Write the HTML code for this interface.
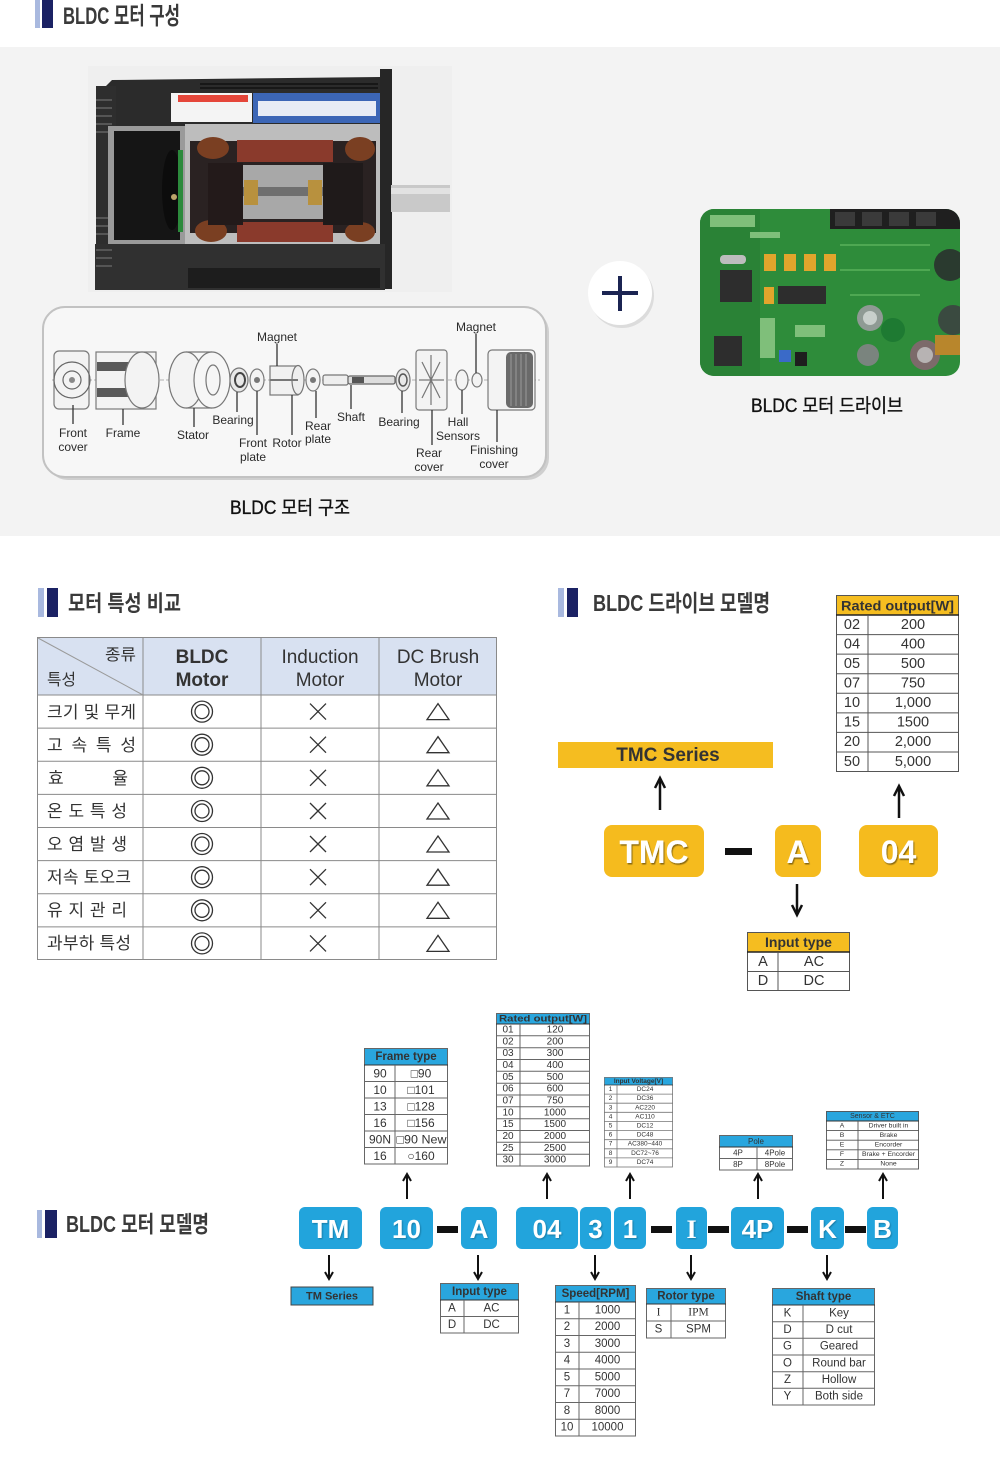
<!DOCTYPE html>
<html>
<head>
<meta charset="utf-8">
<style>
html,body{margin:0;padding:0;background:#fff;}
body{width:1000px;height:1460px;overflow:hidden;position:relative;}
svg{position:absolute;left:0;top:0;}
text{font-family:"Liberation Sans","Noto Sans CJK KR",sans-serif;fill:#333;}
.h{font-weight:bold;fill:#3a3a3a;}
.lbl{font-size:12px;fill:#2a2a2a;text-anchor:middle;}
.c{text-anchor:middle;dominant-baseline:central;}
.ar{stroke:#111;stroke-width:2;fill:none;}
.bt{font-size:26px;font-weight:bold;fill:#fff;text-anchor:middle;}
.yt{font-size:32px;font-weight:bold;fill:#fff;text-anchor:middle;}
.part{stroke:#7a7a7a;stroke-width:1.2;fill:#f3f3f3;}
.serif{font-family:"Liberation Serif",serif !important;}
.cap{fill:#111;stroke:#111;stroke-width:0.35;}
</style>
</head>
<body>
<svg width="1000" height="1460" viewBox="0 0 1000 1460" xmlns="http://www.w3.org/2000/svg">
<defs>
<filter id="ts" x="-10%" y="-10%" width="130%" height="130%"><feDropShadow dx="1" dy="1.5" stdDeviation="0.6" flood-color="#000" flood-opacity="0.45"/></filter>
<filter id="sh" x="-10%" y="-10%" width="130%" height="130%"><feDropShadow dx="1" dy="1" stdDeviation="0.8" flood-color="#000" flood-opacity="0.25"/></filter>
</defs>

<!-- ===== Section 1 header ===== -->
<rect x="35" y="0" width="5" height="28" fill="#a9b9df"/>
<rect x="42" y="0" width="11" height="28" fill="#1b2264"/>
<text x="63" y="24" class="h" font-size="24" textLength="117" lengthAdjust="spacingAndGlyphs">BLDC 모터 구성</text>

<!-- gray band -->
<rect x="0" y="47" width="1000" height="489" fill="#f3f3f3"/>

<!-- ===== Motor photo (approx) ===== -->
<rect x="88" y="66" width="364" height="226" fill="#efefef"/>
<rect x="380" y="69" width="12" height="220" fill="#262626"/>
<path d="M112 80 L380 77 L380 126 L100 126 L100 92 Z" fill="#2b2b2b"/>
<g stroke="#111" stroke-width="1.5">
<line x1="200" y1="84" x2="378" y2="84"/><line x1="200" y1="88" x2="378" y2="88"/>
</g>
<rect x="96" y="86" width="20" height="158" fill="#2e2e2e"/>
<g stroke="#555" stroke-width="2">
<line x1="96" y1="100" x2="112" y2="100"/><line x1="96" y1="108" x2="112" y2="108"/><line x1="96" y1="116" x2="112" y2="116"/><line x1="96" y1="124" x2="112" y2="124"/><line x1="96" y1="132" x2="112" y2="132"/>
<line x1="96" y1="218" x2="112" y2="218"/><line x1="96" y1="226" x2="112" y2="226"/><line x1="96" y1="234" x2="112" y2="234"/>
</g>
<rect x="108" y="126" width="77" height="118" fill="#9a9a9a"/>
<rect x="114" y="131" width="66" height="109" fill="#151515"/>
<ellipse cx="172" cy="190" rx="10" ry="40" fill="#0c0c0c"/>
<rect x="178" y="150" width="5" height="82" fill="#2c8a3c"/>
<circle cx="174" cy="197" r="3" fill="#bca36a"/>
<rect x="185" y="124" width="195" height="120" fill="#bdbdbd"/>
<rect x="190" y="141" width="186" height="92" fill="#2a2222"/>
<rect x="237" y="140" width="96" height="22" fill="#8a3a2c"/>
<rect x="237" y="222" width="96" height="20" fill="#8a3a2c"/>
<g fill="#7a3f22">
<ellipse cx="213" cy="148" rx="16" ry="11"/><ellipse cx="360" cy="149" rx="15" ry="12"/>
<ellipse cx="211" cy="231" rx="16" ry="11"/><ellipse cx="360" cy="232" rx="15" ry="10"/>
</g>
<rect x="208" y="163" width="35" height="62" fill="#231a1a"/>
<rect x="323" y="163" width="40" height="62" fill="#1f1a1a"/>
<rect x="243" y="165" width="80" height="54" fill="#a8a8a8"/>
<rect x="243" y="187" width="80" height="9" fill="#6f6f6f"/>
<rect x="244" y="180" width="14" height="25" fill="#b8913e"/>
<rect x="308" y="180" width="14" height="25" fill="#b8913e"/>
<rect x="95" y="244" width="290" height="46" fill="#303030"/>
<rect x="188" y="268" width="192" height="20" fill="#1d1d1d"/>
<g stroke="#555" stroke-width="2">
<line x1="96" y1="250" x2="112" y2="250"/><line x1="96" y1="258" x2="112" y2="258"/><line x1="96" y1="266" x2="112" y2="266"/>
</g>
<rect x="391" y="185" width="59" height="27" fill="#c9c9c9"/>
<rect x="391" y="188" width="59" height="6" fill="#e2e2e2"/>
<rect x="171" y="93" width="81" height="29" fill="#f4f4f4"/>
<rect x="178" y="95" width="70" height="7" fill="#e5463a"/>
<rect x="253" y="93" width="127" height="30" fill="#3c66b6"/>
<rect x="258" y="101" width="118" height="15" fill="#e8ecf5"/>

<!-- plus circle -->
<circle cx="622" cy="296" r="32" fill="#dcdcdc"/>
<circle cx="620" cy="293" r="32" fill="#ffffff"/>
<rect x="602" y="291" width="36" height="4" fill="#1b2452"/>
<rect x="618" y="276" width="4" height="35" fill="#1b2452"/>

<!-- PCB -->
<g>
<clipPath id="pc"><rect x="700" y="209" width="260" height="167" rx="14"/></clipPath>
<g clip-path="url(#pc)">
<rect x="700" y="209" width="260" height="167" fill="#2e8c3a"/>
<rect x="700" y="209" width="60" height="167" fill="#2a8236"/>
<rect x="830" y="209" width="130" height="20" fill="#1f1f1f"/>
<g fill="#3a3a3a"><rect x="835" y="212" width="20" height="14"/><rect x="862" y="212" width="20" height="14"/><rect x="889" y="212" width="20" height="14"/><rect x="916" y="212" width="20" height="14"/></g>
<rect x="720" y="270" width="32" height="32" fill="#2d2d2d"/>
<rect x="714" y="336" width="28" height="30" fill="#2d2d2d"/>
<rect x="778" y="286" width="48" height="18" fill="#2d2d2d"/>
<g fill="#e2a52c"><rect x="764" y="254" width="12" height="17"/><rect x="784" y="254" width="12" height="17"/><rect x="804" y="254" width="12" height="17"/><rect x="824" y="254" width="12" height="17"/><rect x="764" y="287" width="10" height="17"/></g>
<rect x="720" y="255" width="26" height="9" rx="4" fill="#bdbdbd"/>
<g fill="#7fbf7a"><rect x="710" y="215" width="45" height="12"/><rect x="750" y="232" width="30" height="6"/><rect x="795" y="325" width="30" height="12"/><rect x="760" y="318" width="15" height="40"/></g>
<rect x="779" y="350" width="12" height="12" fill="#3a6ac8"/>
<rect x="795" y="352" width="12" height="14" fill="#1e1e1e"/>
<circle cx="870" cy="318" r="13" fill="#8f9a94"/><circle cx="870" cy="318" r="7" fill="#c8cfcb"/>
<circle cx="868" cy="355" r="11" fill="#7a847e"/>
<circle cx="925" cy="355" r="15" fill="#7c6a6a"/><circle cx="925" cy="355" r="8" fill="#b7b3b3"/>
<circle cx="950" cy="265" r="16" fill="#2a3a2f"/><circle cx="953" cy="320" r="15" fill="#3a4a40"/>
<circle cx="893" cy="330" r="12" fill="#1e7a32"/>
<rect x="935" y="335" width="25" height="20" fill="#b8862c"/>
<g stroke="#59b25a" stroke-width="1.5"><line x1="840" y1="245" x2="930" y2="245"/><line x1="840" y1="270" x2="930" y2="270"/><line x1="850" y1="295" x2="920" y2="295"/></g>
</g>
</g>
<text x="751" y="412" font-size="19" class="cap" textLength="152" lengthAdjust="spacingAndGlyphs">BLDC 모터 드라이브</text>

<!-- ===== Exploded diagram ===== -->
<rect x="46" y="310" width="503" height="170" rx="22" fill="#cfcfcf"/>
<rect x="43" y="307" width="503" height="170" rx="22" fill="#f7f7f7" stroke="#c2c2c2" stroke-width="2"/>
<line x1="52" y1="380" x2="540" y2="380" stroke="#999" stroke-width="0.8" stroke-dasharray="4 2"/>
<rect x="54" y="351" width="35" height="58" rx="5" class="part"/>
<circle cx="72" cy="380" r="18" fill="none" stroke="#666" stroke-width="1.2"/>
<circle cx="72" cy="380" r="9" fill="none" stroke="#666" stroke-width="1.2"/>
<circle cx="72" cy="380" r="3" fill="#888"/>
<rect x="96" y="352" width="60" height="57" class="part"/>
<rect x="97" y="362" width="45" height="9" fill="#5a5a5a"/>
<rect x="97" y="388" width="45" height="9" fill="#5a5a5a"/>
<ellipse cx="142" cy="380" rx="17" ry="28" fill="#f3f3f3" stroke="#777" stroke-width="1.2"/>
<path d="M186 352 L212 352 M186 408 L212 408" stroke="#777" stroke-width="1.2"/>
<ellipse cx="186" cy="380" rx="17" ry="28" fill="#f3f3f3" stroke="#777" stroke-width="1.2"/>
<ellipse cx="212" cy="380" rx="18" ry="28" fill="#f6f6f6" stroke="#777" stroke-width="1.2"/>
<ellipse cx="213" cy="380" rx="7" ry="15" fill="none" stroke="#777" stroke-width="1.2"/>
<ellipse cx="239" cy="380" rx="9" ry="12" fill="#e8e8e8" stroke="#777" stroke-width="1.2"/>
<ellipse cx="240" cy="380" rx="5" ry="7" fill="none" stroke="#444" stroke-width="2"/>
<ellipse cx="257" cy="380" rx="7" ry="11" class="part"/>
<circle cx="257" cy="380" r="3" fill="#777"/>
<rect x="270" y="366" width="28" height="29" fill="#f1f1f1" stroke="#777" stroke-width="1.2"/>
<ellipse cx="298" cy="380" rx="6" ry="14.5" fill="#eee" stroke="#777" stroke-width="1.2"/>
<line x1="270" y1="380" x2="298" y2="380" stroke="#777" stroke-width="2"/>
<ellipse cx="313" cy="380" rx="7" ry="11" class="part"/>
<circle cx="313" cy="380" r="3" fill="#777"/>
<rect x="323" y="375" width="25" height="10" rx="2" fill="#eee" stroke="#777" stroke-width="1.2"/>
<rect x="348" y="376" width="47" height="8" rx="2" fill="#ddd" stroke="#666" stroke-width="1.2"/>
<rect x="352" y="377" width="12" height="6" fill="#555"/>
<ellipse cx="403" cy="380" rx="7" ry="11" fill="#e8e8e8" stroke="#777" stroke-width="1.2"/>
<ellipse cx="403" cy="380" rx="4" ry="6" fill="none" stroke="#555" stroke-width="1.5"/>
<rect x="416" y="350" width="31" height="60" rx="3" class="part"/>
<path d="M431 355 L431 405 M419 380 L444 380 M422 362 L440 398 M440 362 L422 398" stroke="#777" stroke-width="1.2"/>
<ellipse cx="462" cy="380" rx="6" ry="10" class="part"/>
<ellipse cx="477" cy="380" rx="5" ry="7" class="part"/>
<rect x="488" y="350" width="47" height="60" rx="4" class="part"/>
<rect x="506" y="352" width="27" height="56" rx="5" fill="#6a6a6a"/>
<g stroke="#999" stroke-width="1"><line x1="511" y1="354" x2="511" y2="406"/><line x1="516" y1="354" x2="516" y2="406"/><line x1="521" y1="354" x2="521" y2="406"/><line x1="526" y1="354" x2="526" y2="406"/></g>
<g stroke="#333" stroke-width="1.3">
<line x1="277" y1="344" x2="277" y2="366"/>
<line x1="476" y1="334" x2="476" y2="373"/>
<line x1="73" y1="405" x2="73" y2="424"/>
<line x1="123" y1="409" x2="123" y2="425"/>
<line x1="194" y1="408" x2="194" y2="427"/>
<line x1="237" y1="392" x2="237" y2="412"/>
<line x1="257" y1="391" x2="257" y2="435"/>
<line x1="292" y1="395" x2="292" y2="435"/>
<line x1="316" y1="391" x2="316" y2="418"/>
<line x1="351" y1="385" x2="351" y2="409"/>
<line x1="402" y1="391" x2="402" y2="413"/>
<line x1="432" y1="410" x2="432" y2="445"/>
<line x1="462" y1="390" x2="462" y2="414"/>
<line x1="497" y1="410" x2="497" y2="442"/>
</g>
<g>
<text x="277" y="341" class="lbl">Magnet</text>
<text x="476" y="331" class="lbl">Magnet</text>
<text x="73" y="437" class="lbl">Front</text><text x="73" y="451" class="lbl">cover</text>
<text x="123" y="437" class="lbl">Frame</text>
<text x="193" y="439" class="lbl">Stator</text>
<text x="233" y="424" class="lbl">Bearing</text>
<text x="253" y="447" class="lbl">Front</text><text x="253" y="461" class="lbl">plate</text>
<text x="287" y="447" class="lbl">Rotor</text>
<text x="318" y="430" class="lbl">Rear</text><text x="318" y="443" class="lbl">plate</text>
<text x="351" y="421" class="lbl">Shaft</text>
<text x="399" y="426" class="lbl">Bearing</text>
<text x="458" y="426" class="lbl">Hall</text><text x="458" y="440" class="lbl">Sensors</text>
<text x="429" y="457" class="lbl">Rear</text><text x="429" y="471" class="lbl">cover</text>
<text x="494" y="454" class="lbl">Finishing</text><text x="494" y="468" class="lbl">cover</text>
</g>
<text x="230" y="514" font-size="19" class="cap" textLength="120" lengthAdjust="spacingAndGlyphs">BLDC 모터 구조</text>

<!-- ===== Section 2: comparison ===== -->
<rect x="38" y="588" width="6" height="29" fill="#a9b9df"/>
<rect x="47" y="588" width="11" height="29" fill="#1b2264"/>
<text x="68" y="611" class="h" font-size="22" textLength="113" lengthAdjust="spacingAndGlyphs">모터 특성 비교</text>

<rect x="37" y="637" width="460" height="58" fill="#d8e1f1"/>
<g stroke="#8a8a8a" stroke-width="1" fill="none">
<rect x="37.5" y="637.5" width="459" height="322"/>
<line x1="143" y1="637" x2="143" y2="960"/>
<line x1="261" y1="637" x2="261" y2="960"/>
<line x1="379" y1="637" x2="379" y2="960"/>
<line x1="37" y1="695" x2="497" y2="695"/>
<line x1="37" y1="728.1" x2="497" y2="728.1"/>
<line x1="37" y1="761.2" x2="497" y2="761.2"/>
<line x1="37" y1="794.4" x2="497" y2="794.4"/>
<line x1="37" y1="827.5" x2="497" y2="827.5"/>
<line x1="37" y1="860.6" x2="497" y2="860.6"/>
<line x1="37" y1="893.8" x2="497" y2="893.8"/>
<line x1="37" y1="926.9" x2="497" y2="926.9"/>
<line x1="38" y1="638" x2="143" y2="695" stroke="#9a9a9a"/>
</g>
<text x="105" y="660" font-size="16" textLength="31" lengthAdjust="spacingAndGlyphs" fill="#444">종류</text>
<text x="47" y="685" font-size="16" textLength="29" lengthAdjust="spacingAndGlyphs" fill="#444">특성</text>
<text x="202" y="663" font-size="19" font-weight="bold" text-anchor="middle" fill="#222">BLDC</text>
<text x="202" y="686" font-size="19" font-weight="bold" text-anchor="middle" fill="#222">Motor</text>
<text x="320" y="663" font-size="19" text-anchor="middle" fill="#444">Induction</text>
<text x="320" y="686" font-size="19" text-anchor="middle" fill="#444">Motor</text>
<text x="438" y="663" font-size="19" text-anchor="middle" fill="#444">DC Brush</text>
<text x="438" y="686" font-size="19" text-anchor="middle" fill="#444">Motor</text>

<g font-size="17" fill="#333">
<text x="47" y="718" textLength="89" lengthAdjust="spacing">크기 및 무게</text>
<text x="47" y="751" textLength="89" lengthAdjust="spacing">고 속 특 성</text>
<text x="48" y="784" textLength="80" lengthAdjust="spacing">효 율</text>
<text x="47" y="817" textLength="80" lengthAdjust="spacing">온 도 특 성</text>
<text x="47" y="850" textLength="80" lengthAdjust="spacing">오 염 발 생</text>
<text x="47" y="883" textLength="84" lengthAdjust="spacing">저속 토오크</text>
<text x="47" y="916" textLength="80" lengthAdjust="spacing">유 지 관 리</text>
<text x="47" y="949" textLength="84" lengthAdjust="spacing">과부하 특성</text>
</g>
<g stroke="#333" stroke-width="1.3" fill="none">
<circle cx="202" cy="711.6" r="10.5"/><circle cx="202" cy="711.6" r="7"/>
<circle cx="202" cy="744.7" r="10.5"/><circle cx="202" cy="744.7" r="7"/>
<circle cx="202" cy="777.8" r="10.5"/><circle cx="202" cy="777.8" r="7"/>
<circle cx="202" cy="811" r="10.5"/><circle cx="202" cy="811" r="7"/>
<circle cx="202" cy="844" r="10.5"/><circle cx="202" cy="844" r="7"/>
<circle cx="202" cy="877.2" r="10.5"/><circle cx="202" cy="877.2" r="7"/>
<circle cx="202" cy="910.3" r="10.5"/><circle cx="202" cy="910.3" r="7"/>
<circle cx="202" cy="943.4" r="10.5"/><circle cx="202" cy="943.4" r="7"/>
<path d="M310 703.6 L326 719.6 M326 703.6 L310 719.6"/>
<path d="M310 736.7 L326 752.7 M326 736.7 L310 752.7"/>
<path d="M310 769.8 L326 785.8 M326 769.8 L310 785.8"/>
<path d="M310 803 L326 819 M326 803 L310 819"/>
<path d="M310 836 L326 852 M326 836 L310 852"/>
<path d="M310 869.2 L326 885.2 M326 869.2 L310 885.2"/>
<path d="M310 902.3 L326 918.3 M326 902.3 L310 918.3"/>
<path d="M310 935.4 L326 951.4 M326 935.4 L310 951.4"/>
<path d="M427 719.6 L449 719.6 L438 703.6 Z"/>
<path d="M427 752.7 L449 752.7 L438 736.7 Z"/>
<path d="M427 785.8 L449 785.8 L438 769.8 Z"/>
<path d="M427 819 L449 819 L438 803 Z"/>
<path d="M427 852 L449 852 L438 836 Z"/>
<path d="M427 885.2 L449 885.2 L438 869.2 Z"/>
<path d="M427 918.3 L449 918.3 L438 902.3 Z"/>
<path d="M427 951.4 L449 951.4 L438 935.4 Z"/>
</g>

<!-- ===== Section 3: drive model ===== -->
<rect x="558" y="588" width="6" height="29" fill="#a9b9df"/>
<rect x="567" y="588" width="11" height="29" fill="#1b2264"/>
<text x="593" y="611" class="h" font-size="23" textLength="177" lengthAdjust="spacingAndGlyphs">BLDC 드라이브 모델명</text>

<rect x="836" y="595" width="123" height="20" fill="#f5bd20"/>
<g stroke="#555" stroke-width="1" fill="none">
<rect x="836.5" y="595.5" width="122" height="176"/>
<line x1="836" y1="615" x2="959" y2="615" stroke="#222" stroke-width="1.5"/>
<line x1="868" y1="615" x2="868" y2="772"/>
<line x1="836" y1="634.6" x2="959" y2="634.6"/>
<line x1="836" y1="654.1" x2="959" y2="654.1"/>
<line x1="836" y1="673.7" x2="959" y2="673.7"/>
<line x1="836" y1="693.3" x2="959" y2="693.3"/>
<line x1="836" y1="712.9" x2="959" y2="712.9"/>
<line x1="836" y1="732.4" x2="959" y2="732.4"/>
<line x1="836" y1="752" x2="959" y2="752"/>
</g>
<text x="897.5" y="605.5" class="c" font-size="14" font-weight="bold" fill="#222" textLength="113" lengthAdjust="spacingAndGlyphs">Rated output[W]</text>
<g font-size="14.5" fill="#222">
<text x="852" y="625" class="c">02</text><text x="913" y="625" class="c">200</text>
<text x="852" y="644.5" class="c">04</text><text x="913" y="644.5" class="c">400</text>
<text x="852" y="664" class="c">05</text><text x="913" y="664" class="c">500</text>
<text x="852" y="683.5" class="c">07</text><text x="913" y="683.5" class="c">750</text>
<text x="852" y="703" class="c">10</text><text x="913" y="703" class="c">1,000</text>
<text x="852" y="722.6" class="c">15</text><text x="913" y="722.6" class="c">1500</text>
<text x="852" y="742.2" class="c">20</text><text x="913" y="742.2" class="c">2,000</text>
<text x="852" y="761.8" class="c">50</text><text x="913" y="761.8" class="c">5,000</text>
</g>

<rect x="558" y="742" width="215" height="26" fill="#f5bd20"/>
<text x="668" y="755.5" class="c" font-size="19" font-weight="bold" fill="#111">TMC Series</text>

<g stroke="#111" stroke-width="2.5" fill="none">
<line x1="660" y1="810" x2="660" y2="780"/><polyline points="655,788 660,778 665,788"/>
<line x1="899" y1="818" x2="899" y2="788"/><polyline points="894,796 899,786 904,796"/>
<line x1="797" y1="884" x2="797" y2="913"/><polyline points="792,905 797,915 802,905"/>
</g>

<rect x="604" y="825" width="100" height="52" rx="8" fill="#f5bb1e"/>
<rect x="775" y="825" width="46" height="52" rx="8" fill="#f5bb1e"/>
<rect x="859" y="825" width="79" height="52" rx="8" fill="#f5bb1e"/>
<rect x="725" y="848" width="27" height="7" fill="#111"/>
<g filter="url(#ts)">
<text x="654" y="863" class="yt">TMC</text>
<text x="798" y="863" class="yt">A</text>
<text x="898.5" y="863" class="yt">04</text>
</g>

<rect x="747" y="932" width="103" height="20" fill="#f5bd20"/>
<g stroke="#555" stroke-width="1" fill="none">
<rect x="747.5" y="932.5" width="102" height="58"/>
<line x1="747" y1="952" x2="850" y2="952" stroke="#222" stroke-width="1.5"/>
<line x1="778" y1="952" x2="778" y2="991"/>
<line x1="747" y1="971.5" x2="850" y2="971.5"/>
</g>
<text x="798.5" y="942" class="c" font-size="14" font-weight="bold" fill="#222">Input type</text>
<g font-size="14.5" fill="#222">
<text x="763" y="962" class="c">A</text><text x="814" y="962" class="c">AC</text>
<text x="763" y="981" class="c">D</text><text x="814" y="981" class="c">DC</text>
</g>

<!-- ===== Section 4: motor model ===== -->
<rect x="37" y="1210" width="5" height="28" fill="#a9b9df"/>
<rect x="45" y="1210" width="12" height="28" fill="#1b2264"/>
<text x="66" y="1232" class="h" font-size="23" textLength="143" lengthAdjust="spacingAndGlyphs">BLDC 모터 모델명</text>

<rect x="364" y="1048" width="84" height="17" fill="#29a6de"/>
<g stroke="#666" stroke-width="1" fill="none">
<rect x="364.5" y="1048.5" width="83" height="115.5"/>
<line x1="364" y1="1065" x2="448" y2="1065" stroke="#333"/>
<line x1="395" y1="1065" x2="395" y2="1164"/>
<line x1="364" y1="1081.5" x2="448" y2="1081.5"/>
<line x1="364" y1="1098" x2="448" y2="1098"/>
<line x1="364" y1="1114.5" x2="448" y2="1114.5"/>
<line x1="364" y1="1131" x2="448" y2="1131"/>
<line x1="364" y1="1147.5" x2="448" y2="1147.5"/>
</g>
<text x="406" y="1057" class="c" font-size="11.5" font-weight="bold" fill="#222">Frame type</text>
<g font-size="12" fill="#333">
<text x="380" y="1073.3" class="c">90</text><text x="421" y="1073.3" class="c">□90</text>
<text x="380" y="1089.8" class="c">10</text><text x="421" y="1089.8" class="c">□101</text>
<text x="380" y="1106.3" class="c">13</text><text x="421" y="1106.3" class="c">□128</text>
<text x="380" y="1122.8" class="c">16</text><text x="421" y="1122.8" class="c">□156</text>
<text x="380" y="1139.3" class="c">90N</text><text x="421.5" y="1139.3" class="c" textLength="50" lengthAdjust="spacingAndGlyphs">□90 New</text>
<text x="380" y="1155.8" class="c">16</text><text x="421" y="1155.8" class="c">○160</text>
</g>

<rect x="496" y="1013" width="94" height="11" fill="#29a6de"/>
<g stroke="#666" stroke-width="1" fill="none">
<rect x="496.5" y="1013.5" width="93" height="152.5"/>
<line x1="496" y1="1024" x2="590" y2="1024" stroke="#333"/>
<line x1="520" y1="1024" x2="520" y2="1166"/>
<line x1="496" y1="1035.8" x2="590" y2="1035.8"/>
<line x1="496" y1="1047.7" x2="590" y2="1047.7"/>
<line x1="496" y1="1059.5" x2="590" y2="1059.5"/>
<line x1="496" y1="1071.3" x2="590" y2="1071.3"/>
<line x1="496" y1="1083.2" x2="590" y2="1083.2"/>
<line x1="496" y1="1095" x2="590" y2="1095"/>
<line x1="496" y1="1106.8" x2="590" y2="1106.8"/>
<line x1="496" y1="1118.7" x2="590" y2="1118.7"/>
<line x1="496" y1="1130.5" x2="590" y2="1130.5"/>
<line x1="496" y1="1142.3" x2="590" y2="1142.3"/>
<line x1="496" y1="1154.2" x2="590" y2="1154.2"/>
</g>
<text x="543" y="1018.8" class="c" font-size="9.5" font-weight="bold" fill="#222" textLength="88" lengthAdjust="spacingAndGlyphs">Rated output[W]</text>
<g font-size="10" fill="#333">
<text x="508" y="1030" class="c">01</text><text x="555" y="1030" class="c">120</text>
<text x="508" y="1041.8" class="c">02</text><text x="555" y="1041.8" class="c">200</text>
<text x="508" y="1053.6" class="c">03</text><text x="555" y="1053.6" class="c">300</text>
<text x="508" y="1065.4" class="c">04</text><text x="555" y="1065.4" class="c">400</text>
<text x="508" y="1077.3" class="c">05</text><text x="555" y="1077.3" class="c">500</text>
<text x="508" y="1089.1" class="c">06</text><text x="555" y="1089.1" class="c">600</text>
<text x="508" y="1100.9" class="c">07</text><text x="555" y="1100.9" class="c">750</text>
<text x="508" y="1112.8" class="c">10</text><text x="555" y="1112.8" class="c">1000</text>
<text x="508" y="1124.6" class="c">15</text><text x="555" y="1124.6" class="c">1500</text>
<text x="508" y="1136.4" class="c">20</text><text x="555" y="1136.4" class="c">2000</text>
<text x="508" y="1148.3" class="c">25</text><text x="555" y="1148.3" class="c">2500</text>
<text x="508" y="1160.1" class="c">30</text><text x="555" y="1160.1" class="c">3000</text>
</g>

<rect x="604" y="1077" width="69" height="8" fill="#29a6de"/>
<g stroke="#777" stroke-width="0.8" fill="none">
<rect x="604.5" y="1077.5" width="68" height="89.5"/>
<line x1="604" y1="1085" x2="673" y2="1085" stroke="#333"/>
<line x1="617" y1="1085" x2="617" y2="1167"/>
<line x1="604" y1="1094.1" x2="673" y2="1094.1"/>
<line x1="604" y1="1103.2" x2="673" y2="1103.2"/>
<line x1="604" y1="1112.3" x2="673" y2="1112.3"/>
<line x1="604" y1="1121.4" x2="673" y2="1121.4"/>
<line x1="604" y1="1130.6" x2="673" y2="1130.6"/>
<line x1="604" y1="1139.7" x2="673" y2="1139.7"/>
<line x1="604" y1="1148.8" x2="673" y2="1148.8"/>
<line x1="604" y1="1157.9" x2="673" y2="1157.9"/>
</g>
<text x="638.5" y="1081.3" class="c" font-size="6.5" font-weight="bold" fill="#222">Input Voltage[V]</text>
<g font-size="6.5" fill="#444">
<text x="610.5" y="1089.6" class="c">1</text><text x="645" y="1089.6" class="c">DC24</text>
<text x="610.5" y="1098.7" class="c">2</text><text x="645" y="1098.7" class="c">DC36</text>
<text x="610.5" y="1107.8" class="c">3</text><text x="645" y="1107.8" class="c">AC220</text>
<text x="610.5" y="1116.9" class="c">4</text><text x="645" y="1116.9" class="c">AC110</text>
<text x="610.5" y="1126" class="c">5</text><text x="645" y="1126" class="c">DC12</text>
<text x="610.5" y="1135.1" class="c">6</text><text x="645" y="1135.1" class="c">DC48</text>
<text x="610.5" y="1144.2" class="c">7</text><text x="645" y="1144.2" class="c">AC380~440</text>
<text x="610.5" y="1153.3" class="c">8</text><text x="645" y="1153.3" class="c">DC72~76</text>
<text x="610.5" y="1162.4" class="c">9</text><text x="645" y="1162.4" class="c">DC74</text>
</g>

<rect x="719" y="1135" width="74" height="12" fill="#29a6de"/>
<g stroke="#666" stroke-width="1" fill="none">
<rect x="719.5" y="1135.5" width="73" height="34.5"/>
<line x1="719" y1="1147" x2="793" y2="1147" stroke="#333"/>
<line x1="757" y1="1147" x2="757" y2="1170"/>
<line x1="719" y1="1158.5" x2="793" y2="1158.5"/>
</g>
<text x="756" y="1141.3" class="c" font-size="8" fill="#222">Pole</text>
<g font-size="8" fill="#444">
<text x="738" y="1152.8" class="c">4P</text><text x="775" y="1152.8" class="c">4Pole</text>
<text x="738" y="1164.3" class="c">8P</text><text x="775" y="1164.3" class="c">8Pole</text>
</g>

<rect x="826" y="1111" width="93" height="10" fill="#29a6de"/>
<g stroke="#555" stroke-width="0.9" fill="none">
<rect x="826.5" y="1111.5" width="92" height="57.5"/>
<line x1="826" y1="1121" x2="919" y2="1121" stroke="#333"/>
<line x1="858" y1="1121" x2="858" y2="1169"/>
<line x1="826" y1="1130.6" x2="919" y2="1130.6"/>
<line x1="826" y1="1140.2" x2="919" y2="1140.2"/>
<line x1="826" y1="1149.8" x2="919" y2="1149.8"/>
<line x1="826" y1="1159.4" x2="919" y2="1159.4"/>
</g>
<text x="872.5" y="1116.3" class="c" font-size="7" fill="#f2f8fc">Sensor &amp; ETC</text>
<g font-size="6.8" fill="#444">
<text x="842" y="1125.8" class="c">A</text><text x="888.5" y="1125.8" class="c">Driver built in</text>
<text x="842" y="1135.4" class="c">B</text><text x="888.5" y="1135.4" class="c">Brake</text>
<text x="842" y="1145" class="c">E</text><text x="888.5" y="1145" class="c">Encorder</text>
<text x="842" y="1154.6" class="c">F</text><text x="888.5" y="1154.6" class="c">Brake + Encorder</text>
<text x="842" y="1164.2" class="c">Z</text><text x="888.5" y="1164.2" class="c">None</text>
</g>

<g stroke="#111" stroke-width="2" fill="none">
<line x1="407" y1="1199" x2="407" y2="1176"/><polyline points="403,1181 407,1174 411,1181"/>
<line x1="547" y1="1199" x2="547" y2="1176"/><polyline points="543,1181 547,1174 551,1181"/>
<line x1="630" y1="1199" x2="630" y2="1176"/><polyline points="626,1181 630,1174 634,1181"/>
<line x1="758" y1="1199" x2="758" y2="1176"/><polyline points="754,1181 758,1174 762,1181"/>
<line x1="883" y1="1199" x2="883" y2="1176"/><polyline points="879,1181 883,1174 887,1181"/>
<line x1="329" y1="1255" x2="329" y2="1277"/><polyline points="325,1272 329,1279 333,1272"/>
<line x1="478" y1="1255" x2="478" y2="1277"/><polyline points="474,1272 478,1279 482,1272"/>
<line x1="595" y1="1255" x2="595" y2="1277"/><polyline points="591,1272 595,1279 599,1272"/>
<line x1="691" y1="1255" x2="691" y2="1277"/><polyline points="687,1272 691,1279 695,1272"/>
<line x1="827" y1="1255" x2="827" y2="1277"/><polyline points="823,1272 827,1279 831,1272"/>
</g>

<g fill="#22a4dc">
<rect x="299" y="1207" width="63" height="42" rx="6"/>
<rect x="380" y="1207" width="53" height="42" rx="6"/>
<rect x="461" y="1207" width="36" height="42" rx="6"/>
<rect x="516" y="1207" width="62" height="42" rx="6"/>
<rect x="580" y="1207" width="31" height="42" rx="6"/>
<rect x="614" y="1207" width="32" height="42" rx="6"/>
<rect x="676" y="1207" width="31" height="42" rx="6"/>
<rect x="731" y="1207" width="53" height="42" rx="6"/>
<rect x="811" y="1207" width="33" height="42" rx="6"/>
<rect x="867" y="1207" width="31" height="42" rx="6"/>
</g>
<g fill="#111">
<rect x="437" y="1226" width="21" height="7"/>
<rect x="651" y="1226" width="21" height="7"/>
<rect x="708" y="1226" width="21" height="7"/>
<rect x="787" y="1226" width="21" height="7"/>
<rect x="845" y="1226" width="21" height="7"/>
</g>
<g filter="url(#sh)">
<text x="330.5" y="1238" class="bt">TM</text>
<text x="406.5" y="1238" class="bt">10</text>
<text x="479" y="1238" class="bt">A</text>
<text x="547" y="1238" class="bt">04</text>
<text x="595.5" y="1238" class="bt">3</text>
<text x="630" y="1238" class="bt">1</text>
<text x="691.5" y="1238" class="bt serif" style="font-family:'Liberation Serif',serif">I</text>
<text x="757.5" y="1238" class="bt">4P</text>
<text x="827.5" y="1238" class="bt">K</text>
<text x="882.5" y="1238" class="bt">B</text>
</g>

<rect x="291" y="1287" width="82" height="18" fill="#29a6de" stroke="#444" stroke-width="1"/>
<text x="332" y="1296.5" class="c" font-size="11" font-weight="bold" fill="#111">TM Series</text>

<rect x="440" y="1283" width="79" height="17" fill="#29a6de"/>
<g stroke="#666" stroke-width="1" fill="none">
<rect x="440.5" y="1283.5" width="78" height="49.5"/>
<line x1="440" y1="1300" x2="519" y2="1300" stroke="#333"/>
<line x1="464" y1="1300" x2="464" y2="1333"/>
<line x1="440" y1="1316.5" x2="519" y2="1316.5"/>
</g>
<text x="479.5" y="1292" class="c" font-size="11.5" font-weight="bold" fill="#222">Input type</text>
<g font-size="11.5" fill="#444">
<text x="452" y="1308.3" class="c">A</text><text x="491.5" y="1308.3" class="c">AC</text>
<text x="452" y="1324.8" class="c">D</text><text x="491.5" y="1324.8" class="c">DC</text>
</g>

<rect x="555" y="1285" width="81" height="17" fill="#29a6de"/>
<g stroke="#666" stroke-width="1" fill="none">
<rect x="555.5" y="1285.5" width="80" height="150.5"/>
<line x1="555" y1="1302" x2="636" y2="1302" stroke="#333"/>
<line x1="579" y1="1302" x2="579" y2="1436"/>
<line x1="555" y1="1318.75" x2="636" y2="1318.75"/>
<line x1="555" y1="1335.5" x2="636" y2="1335.5"/>
<line x1="555" y1="1352.25" x2="636" y2="1352.25"/>
<line x1="555" y1="1369" x2="636" y2="1369"/>
<line x1="555" y1="1385.75" x2="636" y2="1385.75"/>
<line x1="555" y1="1402.5" x2="636" y2="1402.5"/>
<line x1="555" y1="1419.25" x2="636" y2="1419.25"/>
</g>
<text x="595.5" y="1294" class="c" font-size="11.5" font-weight="bold" fill="#222">Speed[RPM]</text>
<g font-size="11.5" fill="#444">
<text x="567" y="1310.4" class="c">1</text><text x="607.5" y="1310.4" class="c">1000</text>
<text x="567" y="1327.1" class="c">2</text><text x="607.5" y="1327.1" class="c">2000</text>
<text x="567" y="1343.9" class="c">3</text><text x="607.5" y="1343.9" class="c">3000</text>
<text x="567" y="1360.6" class="c">4</text><text x="607.5" y="1360.6" class="c">4000</text>
<text x="567" y="1377.4" class="c">5</text><text x="607.5" y="1377.4" class="c">5000</text>
<text x="567" y="1394.1" class="c">7</text><text x="607.5" y="1394.1" class="c">7000</text>
<text x="567" y="1410.9" class="c">8</text><text x="607.5" y="1410.9" class="c">8000</text>
<text x="567" y="1427.6" class="c">10</text><text x="607.5" y="1427.6" class="c">10000</text>
</g>

<rect x="646" y="1288" width="80" height="16" fill="#29a6de"/>
<g stroke="#666" stroke-width="1" fill="none">
<rect x="646.5" y="1288.5" width="79" height="49.5"/>
<line x1="646" y1="1304" x2="726" y2="1304" stroke="#333"/>
<line x1="671" y1="1304" x2="671" y2="1338"/>
<line x1="646" y1="1321" x2="726" y2="1321"/>
</g>
<text x="686" y="1296.5" class="c" font-size="11.5" font-weight="bold" fill="#222">Rotor type</text>
<g font-size="11.5" fill="#444">
<text x="658.5" y="1312.5" class="c serif" style="font-family:'Liberation Serif',serif">I</text><text x="698.5" y="1312.5" class="c serif" style="font-family:'Liberation Serif',serif">IPM</text>
<text x="658.5" y="1329.5" class="c">S</text><text x="698.5" y="1329.5" class="c">SPM</text>
</g>

<rect x="772" y="1288" width="103" height="17" fill="#29a6de"/>
<g stroke="#666" stroke-width="1" fill="none">
<rect x="772.5" y="1288.5" width="102" height="116.5"/>
<line x1="772" y1="1305" x2="875" y2="1305" stroke="#333"/>
<line x1="803" y1="1305" x2="803" y2="1405"/>
<line x1="772" y1="1321.7" x2="875" y2="1321.7"/>
<line x1="772" y1="1338.3" x2="875" y2="1338.3"/>
<line x1="772" y1="1355" x2="875" y2="1355"/>
<line x1="772" y1="1371.7" x2="875" y2="1371.7"/>
<line x1="772" y1="1388.3" x2="875" y2="1388.3"/>
</g>
<text x="823.5" y="1297" class="c" font-size="11.5" font-weight="bold" fill="#222">Shaft type</text>
<g font-size="11.5" fill="#444">
<text x="787.5" y="1313.3" class="c">K</text><text x="839" y="1313.3" class="c">Key</text>
<text x="787.5" y="1330" class="c">D</text><text x="839" y="1330" class="c">D cut</text>
<text x="787.5" y="1346.7" class="c">G</text><text x="839" y="1346.7" class="c">Geared</text>
<text x="787.5" y="1363.3" class="c">O</text><text x="839" y="1363.3" class="c">Round bar</text>
<text x="787.5" y="1380" class="c">Z</text><text x="839" y="1380" class="c">Hollow</text>
<text x="787.5" y="1396.7" class="c">Y</text><text x="839" y="1396.7" class="c">Both side</text>
</g>
</svg>
</body>
</html>
